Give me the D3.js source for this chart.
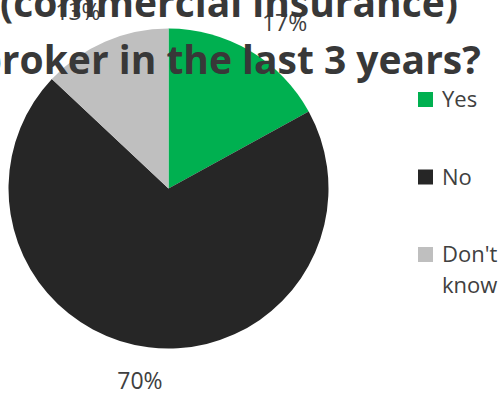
<!DOCTYPE html>
<html>
<head>
<meta charset="utf-8">
<script src="https://cdn.jsdelivr.net/npm/d3@7"></script>
<style>
  html, body { margin: 0; padding: 0; background: #fff; overflow: hidden; }
  svg { display: block; font-family: "Open Sans", sans-serif; }
</style>
</head>
<body>
<svg id="chart" width="502" height="396"></svg>
<script>
const categories = ["Yes", "No", "Don't know"];
const shares = [17, 70, 13];
const sliceColors = ["#00b050", "#262626", "#bfbfbf"];
const titleLines = ["(commercial insurance)", "broker in the last 3 years?"];

const svg = d3.select("#chart");
const cx = 168.5, cy = 188.5, radius = 160;

const pie = d3.pie().sort(null).value(d => d.value);
const arc = d3.arc().innerRadius(0).outerRadius(radius);
const data = pie(categories.map((c, i) => ({ name: c, value: shares[i], color: sliceColors[i] })));

const plot = svg.append("g").attr("transform", `translate(${cx},${cy})`);

plot.selectAll("path")
  .data(data)
  .enter()
  .append("path")
  .attr("d", arc)
  .attr("fill", d => d.data.color);

// labels outside the slices, spread a little wider horizontally
const labelRx = radius + 68;
const labelRy = radius + 33;
plot.selectAll("text.pct")
  .data(data)
  .enter()
  .append("text")
  .attr("class", "pct")
  .attr("x", d => labelRx * Math.sin((d.startAngle + d.endAngle) / 2))
  .attr("y", d => -labelRy * Math.cos((d.startAngle + d.endAngle) / 2))
  .attr("text-anchor", "middle")
  .attr("dominant-baseline", "central")
  .attr("font-size", 23)
  .attr("fill", "#404040")
  .text(d => d.data.value + "%");

// legend
const legend = svg.append("g").attr("transform", "translate(418,92)");
const item = legend.selectAll("g")
  .data(data)
  .enter()
  .append("g")
  .attr("transform", (d, i) => `translate(0,${i * 77.5})`);

item.append("rect")
  .attr("width", 15)
  .attr("height", 15)
  .attr("fill", d => d.data.color);

item.append("text")
  .attr("x", 24)
  .attr("y", 15)
  .attr("font-size", 22)
  .attr("fill", "#404040")
  .each(function (d) {
    const words = d.data.name.split(" ");
    const t = d3.select(this);
    words.forEach((w, k) => {
      t.append("tspan").attr("x", 24).attr("dy", k === 0 ? 0 : 31).text(w);
    });
  });

// title (cut off by the frame, as in the original)
const title = svg.append("g");
title.selectAll("text")
  .data(titleLines)
  .enter()
  .append("text")
  .attr("x", 229)
  .attr("y", (d, i) => 17 + i * 57)
  .attr("text-anchor", "middle")
  .attr("font-weight", "bold")
  .attr("font-size", 39)
  .attr("fill", "#383838")
  .text(d => d);

// fit the title size so the first line spans like the reference
const first = title.select("text").node();
const len = first.getComputedTextLength();
if (len > 0) {
  const size = 39 * 458 / len;
  title.selectAll("text").attr("font-size", size);
}
</script>
</body>
</html>
